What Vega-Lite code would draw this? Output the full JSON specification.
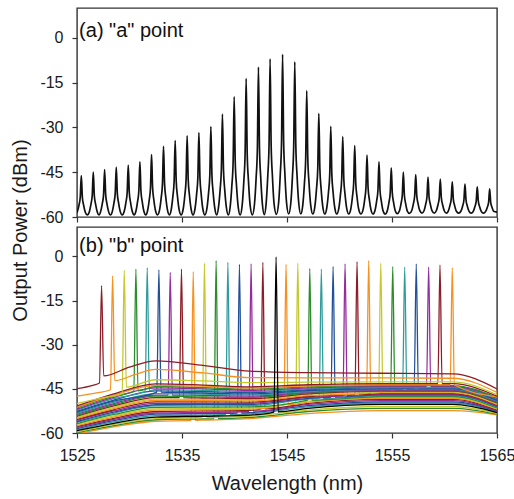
{
  "$schema": "https://vega.github.io/schema/vega-lite/v6.json",
  "background": "white",
  "padding": {"left": 10, "top": 7, "right": -1, "bottom": 0},
  "bounds": "flush",
  "spacing": 10,
  "config": {
    "font": "Liberation Sans",
    "view": {"stroke": "#333333", "strokeWidth": 1.4},
    "axis": {"domain": false, "grid": false, "tickColor": "#333333", "tickSize": 5, "tickWidth": 1.2, "labelFont": "Liberation Sans", "labelFontSize": 16, "labelColor": "#1a1a1a", "titleFont": "Liberation Sans", "titleFontSize": 20, "titleFontWeight": "normal", "titleColor": "#1a1a1a", "labelExpr": "'' + datum.value"},
    "axisY": {"labelPadding": 9, "titlePadding": 9},
    "axisX": {"labelPadding": 9, "titlePadding": 10, "labelFlush": false}
  },
  "datasets": {
    "a": [
      {"w":1525.0,"p":-58.6},
      {"w":1525.19,"p":-56.0},{"w":1525.31,"p":-53.4},{"w":1525.41,"p":-46.1},{"w":1525.51,"p":-53.4},{"w":1525.63,"p":-56.0},{"w":1525.79,"p":-58.4},
      {"w":1525.98,"p":-59.3},
      {"w":1526.17,"p":-58.3},{"w":1526.33,"p":-55.7},{"w":1526.45,"p":-52.9},{"w":1526.55,"p":-45.0},{"w":1526.65,"p":-52.9},{"w":1526.77,"p":-55.7},{"w":1526.93,"p":-58.3},
      {"w":1527.09,"p":-59.3},
      {"w":1527.25,"p":-58.2},{"w":1527.41,"p":-55.5},{"w":1527.53,"p":-52.5},{"w":1527.63,"p":-44.1},{"w":1527.73,"p":-52.5},{"w":1527.85,"p":-55.5},{"w":1528.01,"p":-58.2},
      {"w":1528.19,"p":-59.3},
      {"w":1528.36,"p":-58.2},{"w":1528.52,"p":-55.3},{"w":1528.64,"p":-52.1},{"w":1528.74,"p":-43.3},{"w":1528.84,"p":-52.1},{"w":1528.96,"p":-55.3},{"w":1529.12,"p":-58.2},
      {"w":1529.31,"p":-59.3},
      {"w":1529.50,"p":-58.1},{"w":1529.66,"p":-55.1},{"w":1529.78,"p":-51.8},{"w":1529.88,"p":-42.6},{"w":1529.98,"p":-51.8},{"w":1530.10,"p":-55.1},{"w":1530.26,"p":-58.1},
      {"w":1530.44,"p":-59.3},
      {"w":1530.61,"p":-58.1},{"w":1530.77,"p":-54.8},{"w":1530.89,"p":-51.3},{"w":1530.99,"p":-41.5},{"w":1531.09,"p":-51.3},{"w":1531.21,"p":-54.8},{"w":1531.37,"p":-58.1},
      {"w":1531.55,"p":-59.3},
      {"w":1531.72,"p":-57.9},{"w":1531.88,"p":-54.3},{"w":1532.00,"p":-50.2},{"w":1532.10,"p":-39.1},{"w":1532.20,"p":-50.2},{"w":1532.32,"p":-54.3},{"w":1532.48,"p":-57.9},
      {"w":1532.67,"p":-59.3},
      {"w":1532.86,"p":-57.7},{"w":1533.02,"p":-53.5},{"w":1533.14,"p":-48.9},{"w":1533.24,"p":-36.3},{"w":1533.34,"p":-48.9},{"w":1533.46,"p":-53.5},{"w":1533.62,"p":-57.7},
      {"w":1533.80,"p":-59.3},
      {"w":1533.97,"p":-57.6},{"w":1534.13,"p":-53.1},{"w":1534.25,"p":-48.1},{"w":1534.35,"p":-34.4},{"w":1534.45,"p":-48.1},{"w":1534.57,"p":-53.1},{"w":1534.73,"p":-57.6},
      {"w":1534.92,"p":-59.3},
      {"w":1535.11,"p":-57.4},{"w":1535.27,"p":-52.7},{"w":1535.39,"p":-47.4},{"w":1535.49,"p":-32.8},{"w":1535.59,"p":-47.4},{"w":1535.71,"p":-52.7},{"w":1535.87,"p":-57.4},
      {"w":1536.05,"p":-59.3},
      {"w":1536.23,"p":-57.4},{"w":1536.39,"p":-52.4},{"w":1536.51,"p":-46.9},{"w":1536.61,"p":-31.7},{"w":1536.71,"p":-46.9},{"w":1536.83,"p":-52.4},{"w":1536.99,"p":-57.4},
      {"w":1537.18,"p":-59.3},
      {"w":1537.37,"p":-57.2},{"w":1537.53,"p":-51.9},{"w":1537.65,"p":-46.0},{"w":1537.75,"p":-29.7},{"w":1537.85,"p":-46.0},{"w":1537.97,"p":-51.9},{"w":1538.13,"p":-57.2},
      {"w":1538.30,"p":-59.3},
      {"w":1538.47,"p":-56.9},{"w":1538.63,"p":-50.9},{"w":1538.75,"p":-44.1},{"w":1538.85,"p":-25.5},{"w":1538.95,"p":-44.1},{"w":1539.07,"p":-50.9},{"w":1539.23,"p":-56.9},
      {"w":1539.41,"p":-59.3},
      {"w":1539.59,"p":-56.5},{"w":1539.75,"p":-49.4},{"w":1539.87,"p":-41.5},{"w":1539.97,"p":-19.7},{"w":1540.07,"p":-41.5},{"w":1540.19,"p":-49.4},{"w":1540.35,"p":-56.5},
      {"w":1540.54,"p":-59.3},
      {"w":1540.73,"p":-56.1},{"w":1540.89,"p":-47.9},{"w":1541.01,"p":-38.7},{"w":1541.11,"p":-13.6},{"w":1541.21,"p":-38.7},{"w":1541.33,"p":-47.9},{"w":1541.49,"p":-56.1},
      {"w":1541.70,"p":-59.3},
      {"w":1541.90,"p":-55.8},{"w":1542.06,"p":-46.9},{"w":1542.18,"p":-37.0},{"w":1542.28,"p":-9.8},{"w":1542.38,"p":-37.0},{"w":1542.50,"p":-46.9},{"w":1542.66,"p":-55.8},
      {"w":1542.84,"p":-59.2},
      {"w":1543.01,"p":-55.6},{"w":1543.17,"p":-46.2},{"w":1543.29,"p":-35.8},{"w":1543.39,"p":-7.0},{"w":1543.49,"p":-35.8},{"w":1543.61,"p":-46.2},{"w":1543.77,"p":-55.6},
      {"w":1543.99,"p":-59.1},
      {"w":1544.20,"p":-55.3},{"w":1544.36,"p":-45.6},{"w":1544.48,"p":-34.9},{"w":1544.58,"p":-5.5},{"w":1544.68,"p":-34.9},{"w":1544.80,"p":-45.6},{"w":1544.96,"p":-55.3},
      {"w":1545.16,"p":-59.0},
      {"w":1545.36,"p":-55.4},{"w":1545.52,"p":-46.3},{"w":1545.64,"p":-36.0},{"w":1545.74,"p":-8.0},{"w":1545.84,"p":-36.0},{"w":1545.96,"p":-46.3},{"w":1546.12,"p":-55.4},
      {"w":1546.31,"p":-59.0},
      {"w":1546.50,"p":-56.1},{"w":1546.66,"p":-48.7},{"w":1546.78,"p":-40.4},{"w":1546.88,"p":-17.7},{"w":1546.98,"p":-40.4},{"w":1547.10,"p":-48.7},{"w":1547.26,"p":-56.1},
      {"w":1547.46,"p":-59.0},
      {"w":1547.65,"p":-56.6},{"w":1547.81,"p":-50.6},{"w":1547.93,"p":-43.8},{"w":1548.03,"p":-25.3},{"w":1548.13,"p":-43.8},{"w":1548.25,"p":-50.6},{"w":1548.41,"p":-56.6},
      {"w":1548.60,"p":-59.0},
      {"w":1548.79,"p":-56.9},{"w":1548.95,"p":-51.7},{"w":1549.07,"p":-45.8},{"w":1549.17,"p":-29.6},{"w":1549.27,"p":-45.8},{"w":1549.39,"p":-51.7},{"w":1549.55,"p":-56.9},
      {"w":1549.74,"p":-59.0},
      {"w":1549.93,"p":-57.2},{"w":1550.09,"p":-52.5},{"w":1550.21,"p":-47.3},{"w":1550.31,"p":-33.1},{"w":1550.41,"p":-47.3},{"w":1550.53,"p":-52.5},{"w":1550.69,"p":-57.2},
      {"w":1550.88,"p":-59.0},
      {"w":1551.07,"p":-57.4},{"w":1551.23,"p":-53.3},{"w":1551.35,"p":-48.7},{"w":1551.45,"p":-36.1},{"w":1551.55,"p":-48.7},{"w":1551.67,"p":-53.3},{"w":1551.83,"p":-57.4},
      {"w":1552.04,"p":-59.0},
      {"w":1552.24,"p":-57.6},{"w":1552.40,"p":-54.1},{"w":1552.52,"p":-50.1},{"w":1552.62,"p":-39.3},{"w":1552.72,"p":-50.1},{"w":1552.84,"p":-54.1},{"w":1553.00,"p":-57.6},
      {"w":1553.19,"p":-59.0},
      {"w":1553.38,"p":-57.8},{"w":1553.54,"p":-54.6},{"w":1553.66,"p":-51.1},{"w":1553.76,"p":-41.5},{"w":1553.86,"p":-51.1},{"w":1553.98,"p":-54.6},{"w":1554.14,"p":-57.8},
      {"w":1554.35,"p":-59.0},
      {"w":1554.55,"p":-57.9},{"w":1554.71,"p":-55.1},{"w":1554.83,"p":-52.0},{"w":1554.93,"p":-43.5},{"w":1555.03,"p":-52.0},{"w":1555.15,"p":-55.1},{"w":1555.31,"p":-57.9},
      {"w":1555.51,"p":-58.9},
      {"w":1555.70,"p":-58.0},{"w":1555.86,"p":-55.5},{"w":1555.98,"p":-52.7},{"w":1556.08,"p":-45.0},{"w":1556.18,"p":-52.7},{"w":1556.30,"p":-55.5},{"w":1556.46,"p":-58.0},
      {"w":1556.67,"p":-58.8},
      {"w":1556.88,"p":-57.8},{"w":1557.04,"p":-55.5},{"w":1557.16,"p":-52.9},{"w":1557.26,"p":-45.8},{"w":1557.36,"p":-52.9},{"w":1557.48,"p":-55.5},{"w":1557.64,"p":-57.8},
      {"w":1557.85,"p":-58.7},
      {"w":1558.05,"p":-57.9},{"w":1558.21,"p":-55.7},{"w":1558.33,"p":-53.3},{"w":1558.43,"p":-46.6},{"w":1558.53,"p":-53.3},{"w":1558.65,"p":-55.7},{"w":1558.81,"p":-57.9},
      {"w":1559.02,"p":-58.7},
      {"w":1559.22,"p":-57.9},{"w":1559.38,"p":-55.9},{"w":1559.50,"p":-53.6},{"w":1559.60,"p":-47.3},{"w":1559.70,"p":-53.6},{"w":1559.82,"p":-55.9},{"w":1559.98,"p":-57.9},
      {"w":1560.17,"p":-58.7},
      {"w":1560.36,"p":-58.0},{"w":1560.52,"p":-56.1},{"w":1560.64,"p":-54.0},{"w":1560.74,"p":-48.2},{"w":1560.84,"p":-54.0},{"w":1560.96,"p":-56.1},{"w":1561.12,"p":-58.0},
      {"w":1561.35,"p":-58.7},
      {"w":1561.57,"p":-58.0},{"w":1561.73,"p":-56.3},{"w":1561.85,"p":-54.3},{"w":1561.95,"p":-49.0},{"w":1562.05,"p":-54.3},{"w":1562.17,"p":-56.3},{"w":1562.33,"p":-58.0},
      {"w":1562.54,"p":-58.7},
      {"w":1562.74,"p":-58.1},{"w":1562.90,"p":-56.5},{"w":1563.02,"p":-54.7},{"w":1563.12,"p":-49.9},{"w":1563.22,"p":-54.7},{"w":1563.34,"p":-56.5},{"w":1563.50,"p":-58.1},
      {"w":1563.71,"p":-58.7},
      {"w":1563.92,"p":-58.1},{"w":1564.08,"p":-56.7},{"w":1564.20,"p":-55.1},{"w":1564.30,"p":-50.6},{"w":1564.40,"p":-55.1},{"w":1564.52,"p":-56.7},{"w":1564.68,"p":-58.1},
      {"w":1565.0,"p":-58.4}
    ],
    "b": [
      {"s":"S09","w":1525,"p":-60.3},{"s":"S09","w":1528.5,"p":-57.9},{"s":"S09","w":1532.5,"p":-56.0},{"s":"S09","w":1535.87,"p":-55.7},{"s":"S09","w":1536.07,"p":-5.2},{"s":"S09","w":1536.27,"p":-55.7},{"s":"S09","w":1537,"p":-55.6},{"s":"S09","w":1541.5,"p":-55.1},{"s":"S09","w":1547,"p":-53.4},{"s":"S09","w":1554,"p":-52.4},{"s":"S09","w":1560.8,"p":-52.4},{"s":"S09","w":1565,"p":-53.8},
      {"s":"S11","w":1525,"p":-59.9},{"s":"S11","w":1528.5,"p":-57.5},{"s":"S11","w":1532.5,"p":-55.5},{"s":"S11","w":1537,"p":-55.2},{"s":"S11","w":1538.05,"p":-55.1},{"s":"S11","w":1538.25,"p":-1.4},{"s":"S11","w":1538.45,"p":-55.1},{"s":"S11","w":1541.5,"p":-54.7},{"s":"S11","w":1547,"p":-52.7},{"s":"S11","w":1554,"p":-51.6},{"s":"S11","w":1560.8,"p":-51.6},{"s":"S11","w":1565,"p":-53.6},
      {"s":"S10","w":1525,"p":-59.6},{"s":"S10","w":1528.5,"p":-57.1},{"s":"S10","w":1532.5,"p":-55.1},{"s":"S10","w":1536.94,"p":-54.8},{"s":"S10","w":1537.14,"p":-2.3},{"s":"S10","w":1537.34,"p":-54.8},{"s":"S10","w":1541.5,"p":-54.3},{"s":"S10","w":1547,"p":-52.2},{"s":"S10","w":1554,"p":-51.0},{"s":"S10","w":1560.8,"p":-51.0},{"s":"S10","w":1565,"p":-53.3},
      {"s":"S12","w":1525,"p":-58.9},{"s":"S12","w":1528.5,"p":-56.2},{"s":"S12","w":1532.5,"p":-54.1},{"s":"S12","w":1537,"p":-53.9},{"s":"S12","w":1539.17,"p":-53.7},{"s":"S12","w":1539.37,"p":-2.0},{"s":"S12","w":1539.57,"p":-53.7},{"s":"S12","w":1541.5,"p":-53.5},{"s":"S12","w":1547,"p":-51.1},{"s":"S12","w":1554,"p":-49.8},{"s":"S12","w":1560.8,"p":-49.8},{"s":"S12","w":1565,"p":-52.9},
      {"s":"S13","w":1525,"p":-58.5},{"s":"S13","w":1528.5,"p":-55.8},{"s":"S13","w":1532.5,"p":-53.6},{"s":"S13","w":1537,"p":-53.4},{"s":"S13","w":1540.27,"p":-53.2},{"s":"S13","w":1540.47,"p":-2.7},{"s":"S13","w":1540.67,"p":-53.2},{"s":"S13","w":1541.5,"p":-53.1},{"s":"S13","w":1547,"p":-50.7},{"s":"S13","w":1554,"p":-49.4},{"s":"S13","w":1560.8,"p":-49.4},{"s":"S13","w":1565,"p":-52.6},
      {"s":"S14","w":1525,"p":-58.2},{"s":"S14","w":1528.5,"p":-55.4},{"s":"S14","w":1532.5,"p":-53.2},{"s":"S14","w":1537,"p":-53.0},{"s":"S14","w":1541.38,"p":-52.7},{"s":"S14","w":1541.58,"p":-2.5},{"s":"S14","w":1541.78,"p":-52.6},{"s":"S14","w":1547,"p":-50.3},{"s":"S14","w":1554,"p":-49.0},{"s":"S14","w":1560.8,"p":-49.0},{"s":"S14","w":1565,"p":-52.4},
      {"s":"S15","w":1525,"p":-57.8},{"s":"S15","w":1528.5,"p":-55.0},{"s":"S15","w":1532.5,"p":-52.7},{"s":"S15","w":1537,"p":-52.5},{"s":"S15","w":1541.5,"p":-52.3},{"s":"S15","w":1542.50,"p":-51.9},{"s":"S15","w":1542.70,"p":-2.0},{"s":"S15","w":1542.90,"p":-51.8},{"s":"S15","w":1547,"p":-49.9},{"s":"S15","w":1554,"p":-48.6},{"s":"S15","w":1560.8,"p":-48.6},{"s":"S15","w":1565,"p":-52.2},
      {"s":"S17","w":1525,"p":-57.5},{"s":"S17","w":1528.5,"p":-54.6},{"s":"S17","w":1532.5,"p":-52.2},{"s":"S17","w":1537,"p":-52.1},{"s":"S17","w":1541.5,"p":-51.9},{"s":"S17","w":1544.71,"p":-50.4},{"s":"S17","w":1544.91,"p":-2.7},{"s":"S17","w":1545.11,"p":-50.4},{"s":"S17","w":1547,"p":-49.5},{"s":"S17","w":1554,"p":-48.2},{"s":"S17","w":1560.8,"p":-48.2},{"s":"S17","w":1565,"p":-51.9},
      {"s":"S18","w":1525,"p":-57.1},{"s":"S18","w":1528.5,"p":-54.2},{"s":"S18","w":1532.5,"p":-51.8},{"s":"S18","w":1537,"p":-51.7},{"s":"S18","w":1541.5,"p":-51.5},{"s":"S18","w":1545.83,"p":-49.6},{"s":"S18","w":1546.03,"p":-2.3},{"s":"S18","w":1546.23,"p":-49.5},{"s":"S18","w":1547,"p":-49.2},{"s":"S18","w":1554,"p":-47.9},{"s":"S18","w":1560.8,"p":-47.9},{"s":"S18","w":1565,"p":-51.7},
      {"s":"S19","w":1525,"p":-56.8},{"s":"S19","w":1528.5,"p":-53.7},{"s":"S19","w":1532.5,"p":-51.3},{"s":"S19","w":1537,"p":-51.2},{"s":"S19","w":1541.5,"p":-51.1},{"s":"S19","w":1546.97,"p":-48.8},{"s":"S19","w":1547.17,"p":-4.1},{"s":"S19","w":1547.37,"p":-48.8},{"s":"S19","w":1554,"p":-47.6},{"s":"S19","w":1560.8,"p":-47.6},{"s":"S19","w":1565,"p":-51.5},
      {"s":"S20","w":1525,"p":-56.4},{"s":"S20","w":1528.5,"p":-53.3},{"s":"S20","w":1532.5,"p":-50.8},{"s":"S20","w":1537,"p":-50.8},{"s":"S20","w":1541.5,"p":-50.7},{"s":"S20","w":1547,"p":-48.5},{"s":"S20","w":1548.07,"p":-48.3},{"s":"S20","w":1548.27,"p":-4.3},{"s":"S20","w":1548.47,"p":-48.3},{"s":"S20","w":1554,"p":-47.3},{"s":"S20","w":1560.8,"p":-47.3},{"s":"S20","w":1565,"p":-51.2},
      {"s":"S21","w":1525,"p":-56.1},{"s":"S21","w":1528.5,"p":-52.9},{"s":"S21","w":1532.5,"p":-50.4},{"s":"S21","w":1537,"p":-50.3},{"s":"S21","w":1541.5,"p":-50.3},{"s":"S21","w":1547,"p":-48.2},{"s":"S21","w":1549.19,"p":-47.8},{"s":"S21","w":1549.39,"p":-3.4},{"s":"S21","w":1549.59,"p":-47.8},{"s":"S21","w":1554,"p":-47.0},{"s":"S21","w":1560.8,"p":-47.0},{"s":"S21","w":1565,"p":-51.0},
      {"s":"S22","w":1525,"p":-55.7},{"s":"S22","w":1528.5,"p":-52.5},{"s":"S22","w":1532.5,"p":-49.9},{"s":"S22","w":1537,"p":-49.9},{"s":"S22","w":1541.5,"p":-49.9},{"s":"S22","w":1547,"p":-47.9},{"s":"S22","w":1550.33,"p":-47.4},{"s":"S22","w":1550.53,"p":-2.5},{"s":"S22","w":1550.73,"p":-47.3},{"s":"S22","w":1554,"p":-46.8},{"s":"S22","w":1560.8,"p":-46.8},{"s":"S22","w":1565,"p":-50.8},
      {"s":"S23","w":1525,"p":-55.4},{"s":"S23","w":1528.5,"p":-52.1},{"s":"S23","w":1532.5,"p":-49.4},{"s":"S23","w":1537,"p":-49.4},{"s":"S23","w":1541.5,"p":-49.5},{"s":"S23","w":1547,"p":-47.6},{"s":"S23","w":1551.47,"p":-46.9},{"s":"S23","w":1551.67,"p":-1.8},{"s":"S23","w":1551.87,"p":-46.9},{"s":"S23","w":1554,"p":-46.6},{"s":"S23","w":1560.8,"p":-46.6},{"s":"S23","w":1565,"p":-50.5},
      {"s":"S24","w":1525,"p":-55.0},{"s":"S24","w":1528.5,"p":-51.7},{"s":"S24","w":1532.5,"p":-48.9},{"s":"S24","w":1537,"p":-49.0},{"s":"S24","w":1541.5,"p":-49.1},{"s":"S24","w":1547,"p":-47.3},{"s":"S24","w":1552.58,"p":-46.5},{"s":"S24","w":1552.78,"p":-1.4},{"s":"S24","w":1552.98,"p":-46.5},{"s":"S24","w":1554,"p":-46.3},{"s":"S24","w":1560.8,"p":-46.3},{"s":"S24","w":1565,"p":-50.3},
      {"s":"S25","w":1525,"p":-54.7},{"s":"S25","w":1528.5,"p":-51.3},{"s":"S25","w":1532.5,"p":-48.5},{"s":"S25","w":1537,"p":-48.6},{"s":"S25","w":1541.5,"p":-48.7},{"s":"S25","w":1547,"p":-46.9},{"s":"S25","w":1553.73,"p":-46.0},{"s":"S25","w":1553.93,"p":-2.3},{"s":"S25","w":1554.13,"p":-46.0},{"s":"S25","w":1560.8,"p":-46.0},{"s":"S25","w":1565,"p":-50.1},
      {"s":"S08","w":1525,"p":-54.3},{"s":"S08","w":1528.5,"p":-50.8},{"s":"S08","w":1532.5,"p":-48.0},{"s":"S08","w":1534.75,"p":-48.0},{"s":"S08","w":1534.95,"p":-4.3},{"s":"S08","w":1535.15,"p":-48.0},{"s":"S08","w":1537,"p":-48.1},{"s":"S08","w":1541.5,"p":-48.3},{"s":"S08","w":1547,"p":-46.7},{"s":"S08","w":1554,"p":-45.8},{"s":"S08","w":1560.8,"p":-45.8},{"s":"S08","w":1565,"p":-49.8},
      {"s":"S26","w":1525,"p":-54.0},{"s":"S26","w":1528.5,"p":-50.4},{"s":"S26","w":1532.5,"p":-47.5},{"s":"S26","w":1537,"p":-47.7},{"s":"S26","w":1541.5,"p":-47.9},{"s":"S26","w":1547,"p":-46.4},{"s":"S26","w":1554,"p":-45.6},{"s":"S26","w":1554.87,"p":-45.6},{"s":"S26","w":1555.07,"p":-3.4},{"s":"S26","w":1555.27,"p":-45.6},{"s":"S26","w":1560.8,"p":-45.6},{"s":"S26","w":1565,"p":-49.6},
      {"s":"S07","w":1525,"p":-53.6},{"s":"S07","w":1528.5,"p":-50.0},{"s":"S07","w":1532.5,"p":-47.1},{"s":"S07","w":1533.68,"p":-47.1},{"s":"S07","w":1533.88,"p":-5.4},{"s":"S07","w":1534.08,"p":-47.1},{"s":"S07","w":1537,"p":-47.2},{"s":"S07","w":1541.5,"p":-47.5},{"s":"S07","w":1547,"p":-46.1},{"s":"S07","w":1554,"p":-45.4},{"s":"S07","w":1560.8,"p":-45.4},{"s":"S07","w":1565,"p":-49.4},
      {"s":"S27","w":1525,"p":-53.3},{"s":"S27","w":1528.5,"p":-49.6},{"s":"S27","w":1532.5,"p":-46.6},{"s":"S27","w":1537,"p":-46.8},{"s":"S27","w":1541.5,"p":-47.1},{"s":"S27","w":1547,"p":-45.9},{"s":"S27","w":1554,"p":-45.2},{"s":"S27","w":1556.01,"p":-45.2},{"s":"S27","w":1556.21,"p":-3.6},{"s":"S27","w":1556.41,"p":-45.2},{"s":"S27","w":1560.8,"p":-45.2},{"s":"S27","w":1565,"p":-49.1},
      {"s":"S06","w":1525,"p":-52.9},{"s":"S06","w":1528.5,"p":-49.2},{"s":"S06","w":1532.60,"p":-46.1},{"s":"S06","w":1532.80,"p":-4.5},{"s":"S06","w":1533.00,"p":-46.1},{"s":"S06","w":1537,"p":-46.4},{"s":"S06","w":1541.5,"p":-46.7},{"s":"S06","w":1547,"p":-45.6},{"s":"S06","w":1554,"p":-45.0},{"s":"S06","w":1560.8,"p":-45.0},{"s":"S06","w":1565,"p":-48.9},
      {"s":"S28","w":1525,"p":-52.6},{"s":"S28","w":1528.5,"p":-48.8},{"s":"S28","w":1532.5,"p":-45.7},{"s":"S28","w":1537,"p":-45.9},{"s":"S28","w":1541.5,"p":-46.3},{"s":"S28","w":1547,"p":-45.3},{"s":"S28","w":1554,"p":-44.7},{"s":"S28","w":1557.11,"p":-44.7},{"s":"S28","w":1557.31,"p":-2.5},{"s":"S28","w":1557.51,"p":-44.7},{"s":"S28","w":1560.8,"p":-44.7},{"s":"S28","w":1565,"p":-48.7},
      {"s":"S05","w":1525,"p":-52.2},{"s":"S05","w":1528.5,"p":-48.3},{"s":"S05","w":1531.49,"p":-45.9},{"s":"S05","w":1531.69,"p":-3.8},{"s":"S05","w":1531.89,"p":-45.7},{"s":"S05","w":1532.5,"p":-45.2},{"s":"S05","w":1537,"p":-45.5},{"s":"S05","w":1541.5,"p":-45.9},{"s":"S05","w":1547,"p":-45.0},{"s":"S05","w":1554,"p":-44.5},{"s":"S05","w":1560.8,"p":-44.5},{"s":"S05","w":1565,"p":-48.4},
      {"s":"S29","w":1525,"p":-51.9},{"s":"S29","w":1528.5,"p":-47.9},{"s":"S29","w":1532.5,"p":-44.7},{"s":"S29","w":1537,"p":-45.0},{"s":"S29","w":1541.5,"p":-45.5},{"s":"S29","w":1547,"p":-44.7},{"s":"S29","w":1554,"p":-44.2},{"s":"S29","w":1558.29,"p":-44.2},{"s":"S29","w":1558.49,"p":-3.6},{"s":"S29","w":1558.69,"p":-44.2},{"s":"S29","w":1560.8,"p":-44.2},{"s":"S29","w":1565,"p":-48.2},
      {"s":"S04","w":1525,"p":-51.5},{"s":"S04","w":1528.5,"p":-47.5},{"s":"S04","w":1530.41,"p":-45.9},{"s":"S04","w":1530.61,"p":-4.3},{"s":"S04","w":1530.81,"p":-45.7},{"s":"S04","w":1532.5,"p":-44.2},{"s":"S04","w":1537,"p":-44.6},{"s":"S04","w":1541.5,"p":-45.1},{"s":"S04","w":1547,"p":-44.3},{"s":"S04","w":1554,"p":-43.9},{"s":"S04","w":1560.8,"p":-43.9},{"s":"S04","w":1565,"p":-48.0},
      {"s":"S31","w":1525,"p":-51.2},{"s":"S31","w":1528.5,"p":-47.1},{"s":"S31","w":1532.5,"p":-43.8},{"s":"S31","w":1537,"p":-44.1},{"s":"S31","w":1541.5,"p":-44.7},{"s":"S31","w":1547,"p":-44.0},{"s":"S31","w":1554,"p":-43.6},{"s":"S31","w":1560.54,"p":-43.6},{"s":"S31","w":1560.74,"p":-3.8},{"s":"S31","w":1560.94,"p":-43.7},{"s":"S31","w":1565,"p":-47.7},
      {"s":"S30","w":1525,"p":-50.8},{"s":"S30","w":1528.5,"p":-46.7},{"s":"S30","w":1532.5,"p":-43.3},{"s":"S30","w":1537,"p":-43.7},{"s":"S30","w":1541.5,"p":-44.3},{"s":"S30","w":1547,"p":-43.6},{"s":"S30","w":1554,"p":-43.2},{"s":"S30","w":1559.37,"p":-43.2},{"s":"S30","w":1559.57,"p":-2.9},{"s":"S30","w":1559.77,"p":-43.2},{"s":"S30","w":1560.8,"p":-43.2},{"s":"S30","w":1565,"p":-47.5},
      {"s":"S03","w":1525,"p":-50.0},{"s":"S03","w":1527.5,"p":-48.0},{"s":"S03","w":1529.30,"p":-46.6},{"s":"S03","w":1529.50,"p":-4.7},{"s":"S03","w":1529.70,"p":-44.4},{"s":"S03","w":1532.5,"p":-41.9},{"s":"S03","w":1537,"p":-42.3},{"s":"S03","w":1541.5,"p":-42.9},{"s":"S03","w":1547,"p":-42.7},{"s":"S03","w":1554,"p":-42.6},{"s":"S03","w":1560.8,"p":-42.6},{"s":"S03","w":1565,"p":-47.0},
      {"s":"S02","w":1525,"p":-47.5},{"s":"S02","w":1527,"p":-46.3},{"s":"S02","w":1528.19,"p":-45.3},{"s":"S02","w":1528.39,"p":-6.6},{"s":"S02","w":1528.59,"p":-42.2},{"s":"S02","w":1530.5,"p":-40.2},{"s":"S02","w":1532.5,"p":-38.4},{"s":"S02","w":1537,"p":-39.6},{"s":"S02","w":1541.5,"p":-41.2},{"s":"S02","w":1547,"p":-41.3},{"s":"S02","w":1554,"p":-41.3},{"s":"S02","w":1560.8,"p":-41.4},{"s":"S02","w":1565,"p":-46.2},
      {"s":"S01","w":1525,"p":-44.9},{"s":"S01","w":1526.5,"p":-43.8},{"s":"S01","w":1527.14,"p":-43.0},{"s":"S01","w":1527.34,"p":-9.9},{"s":"S01","w":1527.54,"p":-40.6},{"s":"S01","w":1530,"p":-37.6},{"s":"S01","w":1532.5,"p":-35.5},{"s":"S01","w":1537,"p":-37.0},{"s":"S01","w":1541.5,"p":-39.0},{"s":"S01","w":1547,"p":-39.5},{"s":"S01","w":1554,"p":-39.7},{"s":"S01","w":1560.8,"p":-39.9},{"s":"S01","w":1565,"p":-45.0},
      {"s":"S16","w":1525,"p":-59.2},{"s":"S16","w":1528.5,"p":-56.7},{"s":"S16","w":1532.5,"p":-54.6},{"s":"S16","w":1537,"p":-54.3},{"s":"S16","w":1541.5,"p":-53.9},{"s":"S16","w":1543.76,"p":-52.9},{"s":"S16","w":1543.96,"p":-0.2},{"s":"S16","w":1544.16,"p":-52.8},{"s":"S16","w":1547,"p":-51.6},{"s":"S16","w":1554,"p":-50.3},{"s":"S16","w":1560.8,"p":-50.3},{"s":"S16","w":1565,"p":-53.1}
    ]
  },
  "vconcat": [
    {
      "width": 420,
      "height": 209,
      "layer": [
        {
          "data": {"name": "a"},
          "mark": {"type": "line", "color": "#111111", "strokeWidth": 1.7, "interpolate": "monotone", "clip": true},
          "encoding": {
            "x": {"field": "w", "type": "quantitative", "scale": {"domain": [1525, 1565], "nice": false, "zero": false}, "axis": {"values": [1525, 1535, 1545, 1555, 1565], "labels": false, "title": null}},
            "y": {"field": "p", "type": "quantitative", "scale": {"domain": [-60, 10], "nice": false, "zero": false}, "axis": {"values": [-60, -45, -30, -15, 0], "title": "Output Power (dBm)", "titleY": 222}}
          }
        },
        {
          "data": {"values": [{"t": "(a) \"a\" point"}]},
          "mark": {"type": "text", "align": "left", "baseline": "alphabetic", "fontSize": 20, "font": "Liberation Sans", "color": "#111111"},
          "encoding": {
            "x": {"datum": 1525.2, "type": "quantitative"},
            "y": {"datum": 0.4, "type": "quantitative"},
            "text": {"field": "t"}
          }
        }
      ]
    },
    {
      "width": 420,
      "height": 206,
      "layer": [
        {
          "data": {"name": "b"},
          "mark": {"type": "line", "strokeWidth": 1.3, "interpolate": "monotone", "clip": true},
          "encoding": {
            "x": {"field": "w", "type": "quantitative", "scale": {"domain": [1525, 1565], "nice": false, "zero": false}, "axis": {"values": [1525, 1535, 1545, 1555, 1565], "title": "Wavelength (nm)"}},
            "y": {"field": "p", "type": "quantitative", "scale": {"domain": [-60, 10], "nice": false, "zero": false}, "axis": {"values": [-60, -45, -30, -15, 0], "title": null}},
            "color": {"field": "s", "type": "nominal", "legend": null, "scale": {
              "domain": ["S01","S02","S03","S04","S05","S06","S07","S08","S09","S10","S11","S12","S13","S14","S15","S16","S17","S18","S19","S20","S21","S22","S23","S24","S25","S26","S27","S28","S29","S30","S31"],
              "range": ["#8c1d26","#f7901e","#c3c92d","#2a8c2a","#2f9c9c","#21509a","#952c9e","#8c1d26","#f7901e","#c3c92d","#2a8c2a","#2f9c9c","#21509a","#952c9e","#8c1d26","#000000","#f7901e","#c3c92d","#2a8c2a","#2f9c9c","#21509a","#952c9e","#8c1d26","#f7901e","#c3c92d","#2a8c2a","#2f9c9c","#21509a","#952c9e","#8c1d26","#f7901e"]}}
          }
        },
        {
          "data": {"values": [{"t": "(b) \"b\" point"}]},
          "mark": {"type": "text", "align": "left", "baseline": "alphabetic", "fontSize": 20, "font": "Liberation Sans", "color": "#111111"},
          "encoding": {
            "x": {"datum": 1525.2, "type": "quantitative"},
            "y": {"datum": 1.5, "type": "quantitative"},
            "text": {"field": "t"}
          }
        }
      ]
    }
  ]
}
